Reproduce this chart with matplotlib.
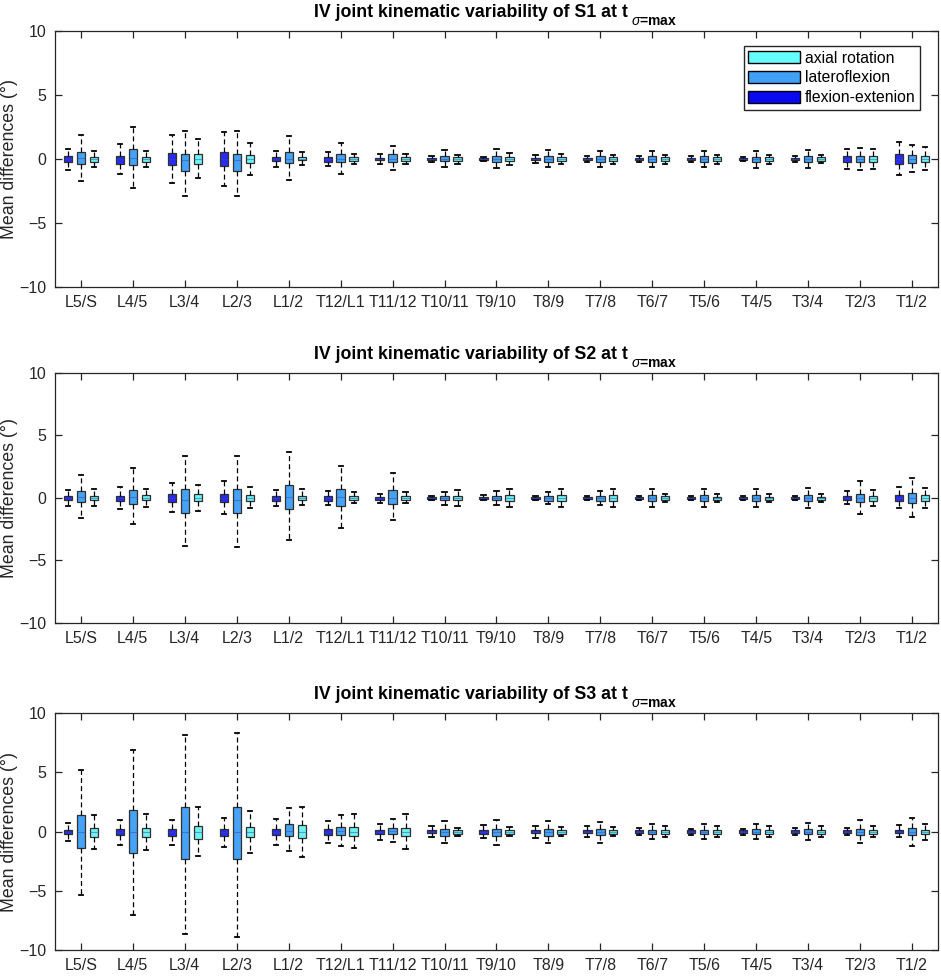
import matplotlib
matplotlib.use("Agg")
from matplotlib import pyplot as plt
from matplotlib.patches import Patch

plt.rcParams['font.family'] = ['Liberation Sans', 'DejaVu Sans']
plt.rcParams['mathtext.fontset'] = 'custom'
plt.rcParams['mathtext.rm'] = 'Liberation Sans'
plt.rcParams['mathtext.it'] = 'Liberation Sans:italic'
plt.rcParams['mathtext.bf'] = 'Liberation Sans:bold'

joints = ['L5/S', 'L4/5', 'L3/4', 'L2/3', 'L1/2', 'T12/L1', 'T11/12', 'T10/11', 'T9/10',
          'T8/9', 'T7/8', 'T6/7', 'T5/6', 'T4/5', 'T3/4', 'T2/3', 'T1/2']
subjects = ['S1', 'S2', 'S3']

# (whisker low, q1, median, q3, whisker high) per joint
s1_flex = [(-0.83, -0.26, 0, 0.23, 0.8), (-1.2, -0.36, 0, 0.26, 1.2), (-1.85, -0.5, 0, 0.5, 1.87),
           (-2.1, -0.52, 0, 0.57, 2.1), (-0.62, -0.18, 0, 0.16, 0.6), (-0.55, -0.2, 0, 0.16, 0.52),
           (-0.4, -0.1, 0, 0.1, 0.4), (-0.2, -0.08, 0, 0.08, 0.2), (-0.15, -0.1, 0, 0.1, 0.15),
           (-0.28, -0.08, 0, 0.08, 0.28), (-0.25, -0.08, 0, 0.08, 0.25), (-0.2, -0.07, 0, 0.07, 0.2),
           (-0.25, -0.08, 0, 0.08, 0.25), (-0.15, -0.07, 0, 0.07, 0.15), (-0.2, -0.08, 0, 0.08, 0.2),
           (-0.78, -0.2, 0, 0.2, 0.78), (-1.27, -0.36, 0, 0.36, 1.33)]
s1_lat = [(-1.7, -0.36, 0.05, 0.55, 1.85), (-2.27, -0.47, 0.1, 0.75, 2.5), (-2.86, -0.94, -0.1, 0.4, 2.16),
          (-2.9, -0.94, -0.1, 0.42, 2.2), (-1.67, -0.34, 0, 0.55, 1.82), (-1.17, -0.26, 0, 0.42, 1.28),
          (-0.9, -0.2, 0, 0.36, 1.0), (-0.62, -0.18, 0, 0.2, 0.68), (-0.7, -0.2, 0, 0.2, 0.78),
          (-0.6, -0.2, 0, 0.23, 0.7), (-0.6, -0.2, 0, 0.2, 0.62), (-0.65, -0.2, 0, 0.2, 0.65),
          (-0.65, -0.2, 0, 0.2, 0.62), (-0.68, -0.2, 0, 0.18, 0.62), (-0.7, -0.2, 0, 0.2, 0.7),
          (-0.88, -0.22, 0, 0.2, 0.88), (-1.04, -0.29, 0, 0.34, 1.07)]
s1_axial = [(-0.62, -0.2, 0, 0.18, 0.6), (-0.62, -0.2, 0, 0.18, 0.62), (-1.46, -0.36, 0, 0.4, 1.56),
            (-1.22, -0.34, 0, 0.34, 1.28), (-0.5, -0.1, 0, 0.18, 0.55), (-0.36, -0.15, 0, 0.13, 0.4),
            (-0.36, -0.13, 0, 0.15, 0.4), (-0.36, -0.13, 0, 0.13, 0.34), (-0.44, -0.15, 0, 0.15, 0.5),
            (-0.4, -0.15, 0, 0.15, 0.4), (-0.36, -0.13, 0, 0.13, 0.3), (-0.36, -0.13, 0, 0.13, 0.3),
            (-0.4, -0.15, 0, 0.15, 0.3), (-0.36, -0.13, 0, 0.13, 0.28), (-0.33, -0.13, 0, 0.13, 0.3),
            (-0.76, -0.21, 0, 0.23, 0.78), (-0.86, -0.23, 0, 0.26, 0.9)]

s2_flex = [(-0.65, -0.19, 0, 0.16, 0.62), (-0.89, -0.27, 0, 0.19, 0.86), (-1.16, -0.32, 0, 0.3, 1.18),
           (-1.32, -0.35, 0, 0.35, 1.34), (-0.67, -0.24, 0, 0.13, 0.6), (-0.59, -0.21, 0, 0.13, 0.54),
           (-0.38, -0.16, 0, 0.1, 0.35), (-0.18, -0.08, 0, 0.08, 0.18), (-0.2, -0.08, 0, 0.08, 0.2),
           (-0.18, -0.07, 0, 0.07, 0.18), (-0.18, -0.07, 0, 0.07, 0.18), (-0.15, -0.07, 0, 0.07, 0.15),
           (-0.15, -0.06, 0, 0.06, 0.15), (-0.15, -0.06, 0, 0.06, 0.15), (-0.15, -0.07, 0, 0.07, 0.15),
           (-0.48, -0.19, 0, 0.16, 0.54), (-0.8, -0.24, 0, 0.24, 0.86)]
s2_lat = [(-1.59, -0.35, 0.05, 0.54, 1.8), (-2.1, -0.46, 0.1, 0.67, 2.4), (-3.87, -1.18, -0.15, 0.7, 3.33),
          (-3.92, -1.2, -0.15, 0.7, 3.39), (-3.33, -0.89, 0.05, 1.0, 3.66), (-2.37, -0.65, 0.05, 0.73, 2.58),
          (-1.8, -0.5, 0, 0.6, 2.0), (-0.54, -0.19, 0, 0.16, 0.5), (-0.56, -0.19, 0, 0.19, 0.56),
          (-0.48, -0.21, 0, 0.19, 0.48), (-0.56, -0.21, 0, 0.19, 0.56), (-0.7, -0.21, 0, 0.24, 0.73),
          (-0.7, -0.21, 0, 0.24, 0.73), (-0.7, -0.21, 0, 0.21, 0.73), (-0.78, -0.24, 0, 0.21, 0.8),
          (-1.29, -0.35, 0, 0.32, 1.34), (-1.56, -0.4, 0, 0.4, 1.56)]
s2_axial = [(-0.67, -0.19, 0, 0.19, 0.7), (-0.7, -0.19, 0, 0.21, 0.7), (-1.02, -0.27, 0, 0.3, 1.02),
            (-0.83, -0.24, 0, 0.24, 0.86), (-0.56, -0.16, 0, 0.19, 0.7), (-0.4, -0.13, 0, 0.16, 0.5),
            (-0.4, -0.16, 0, 0.16, 0.5), (-0.62, -0.19, 0, 0.19, 0.62), (-0.75, -0.24, 0, 0.21, 0.75),
            (-0.73, -0.24, 0, 0.21, 0.7), (-0.75, -0.27, 0, 0.21, 0.7), (-0.3, -0.16, 0, 0.13, 0.3),
            (-0.3, -0.13, 0, 0.11, 0.3), (-0.3, -0.13, 0, 0.11, 0.3), (-0.3, -0.13, 0, 0.11, 0.3),
            (-0.65, -0.21, 0, 0.19, 0.65), (-0.78, -0.21, 0, 0.21, 0.8)]

s3_flex = [(-0.76, -0.2, 0, 0.17, 0.7), (-1.1, -0.28, 0, 0.23, 1.0), (-1.15, -0.34, 0, 0.2, 1.0),
           (-1.3, -0.37, 0, 0.23, 1.18), (-1.1, -0.3, 0, 0.23, 1.04), (-0.99, -0.25, 0, 0.2, 0.93),
           (-0.68, -0.2, 0, 0.14, 0.65), (-0.45, -0.13, 0, 0.13, 0.45), (-0.56, -0.23, 0, 0.14, 0.56),
           (-0.53, -0.15, 0, 0.15, 0.5), (-0.48, -0.15, 0, 0.15, 0.48), (-0.25, -0.1, 0, 0.1, 0.28),
           (-0.25, -0.1, 0, 0.1, 0.25), (-0.25, -0.1, 0, 0.1, 0.25), (-0.28, -0.1, 0, 0.1, 0.28),
           (-0.28, -0.14, 0, 0.11, 0.34), (-0.5, -0.14, 0, 0.14, 0.54)]
s3_lat = [(-5.35, -1.35, 0, 1.38, 5.18), (-7.07, -1.77, 0, 1.8, 6.87), (-8.68, -2.28, -0.05, 2.03, 8.14),
          (-8.87, -2.3, -0.05, 2.03, 8.3), (-1.63, -0.37, 0.05, 0.6, 1.97), (-1.2, -0.25, 0.05, 0.42, 1.38),
          (-0.9, -0.2, 0.05, 0.31, 1.07), (-1.0, -0.34, 0, 0.23, 0.87), (-1.15, -0.4, 0, 0.23, 1.0),
          (-1.0, -0.34, 0, 0.23, 0.87), (-0.93, -0.3, 0, 0.2, 0.82), (-0.65, -0.2, 0, 0.17, 0.62),
          (-0.65, -0.2, 0, 0.17, 0.62), (-0.62, -0.2, 0, 0.2, 0.62), (-0.68, -0.22, 0, 0.2, 0.68),
          (-1.0, -0.28, 0, 0.25, 0.99), (-1.2, -0.3, 0, 0.3, 1.18)]
s3_axial = [(-1.46, -0.42, 0, 0.34, 1.38), (-1.52, -0.42, 0, 0.34, 1.52), (-2.1, -0.6, 0, 0.5, 2.08),
            (-1.77, -0.48, 0, 0.42, 1.72), (-2.14, -0.54, 0, 0.56, 2.1), (-1.41, -0.37, 0, 0.37, 1.44),
            (-1.5, -0.37, 0, 0.34, 1.52), (-0.34, -0.17, 0, 0.11, 0.3), (-0.4, -0.17, 0, 0.14, 0.4),
            (-0.37, -0.17, 0, 0.14, 0.37), (-0.37, -0.17, 0, 0.14, 0.37), (-0.45, -0.17, 0, 0.17, 0.48),
            (-0.45, -0.17, 0, 0.17, 0.48), (-0.42, -0.17, 0, 0.17, 0.45), (-0.45, -0.17, 0, 0.17, 0.48),
            (-0.48, -0.2, 0, 0.17, 0.5), (-0.73, -0.22, 0, 0.11, 0.6)]

panels = [(s1_flex, s1_lat, s1_axial), (s2_flex, s2_lat, s2_axial), (s3_flex, s3_lat, s3_axial)]

colors = {'flex': '#2a2af0', 'lat': '#45a2f5', 'axial': '#6ff3ef'}
offsets = [-0.25, 0.0, 0.25]
keys = ['flex', 'lat', 'axial']

fig = plt.figure(figsize=(9.41, 9.76), dpi=100)
rects = [[0.0584, 0.706, 0.9384, 0.2623],
         [0.0584, 0.3617, 0.9384, 0.2562],
         [0.0584, 0.0266, 0.9384, 0.2428]]

for p, (subj, comps) in enumerate(zip(subjects, panels)):
    ax = fig.add_axes(rects[p])
    for comp, off, key in zip(comps, offsets, keys):
        stats = [dict(whislo=lo, q1=q1, med=med, q3=q3, whishi=hi, fliers=[])
                 for lo, q1, med, q3, hi in comp]
        pos = [i + 1 + off for i in range(len(joints))]
        ax.bxp(stats, positions=pos, widths=0.16, capwidths=0.08, patch_artist=True,
               showfliers=False, manage_ticks=False,
               boxprops=dict(facecolor=colors[key], edgecolor='#303030', linewidth=0.9),
               whiskerprops=dict(color='black', linestyle=(0, (4, 2.5)), linewidth=0.9),
               capprops=dict(color='black', linewidth=1.3),
               medianprops=dict(color='#2a4fb0', linewidth=0.8, alpha=0.5))
    ax.set_xlim(0.5, len(joints) + 0.5)
    ax.set_ylim(-10, 10)
    ax.set_yticks([-10, -5, 0, 5, 10])
    ax.set_xticks(range(1, len(joints) + 1))
    ax.set_xticklabels(joints)
    ax.tick_params(direction='in', length=5, width=0.9, top=True, right=True,
                   labelsize=11.5, colors='#262626', pad=6)
    for s in ax.spines.values():
        s.set_color('#262626')
        s.set_linewidth(0.9)
    ax.set_ylabel('Mean differences (°)', fontsize=12.8, color='#262626', labelpad=1)

    # title: main part ends at the "t", subscript set lower and smaller
    ax.annotate('IV joint kinematic variability of ' + subj + ' at t', xy=(0.649, 1),
                xycoords='axes fraction', xytext=(0, 9.9), textcoords='offset points',
                ha='right', va='baseline', fontsize=12.8, fontweight='bold')
    ax.annotate(r'$\sigma$=max', xy=(0.6525, 1), xycoords='axes fraction',
                xytext=(0, 4.6), textcoords='offset points',
                ha='left', va='baseline', fontsize=10, fontweight='bold')

    if p == 0:
        handles = [Patch(facecolor='#66ffff', edgecolor='black', label='axial rotation'),
                   Patch(facecolor='#3fa0f5', edgecolor='black', label='lateroflexion'),
                   Patch(facecolor='#0a0af0', edgecolor='black', label='flexion-extenion')]
        ax.legend(handles=handles, loc='upper right', bbox_to_anchor=(0.98, 0.941),
                  borderaxespad=0, fancybox=False, edgecolor='#262626', framealpha=1,
                  fontsize=11.3, handlelength=3.3, handleheight=0.8, labelspacing=0.3,
                  handletextpad=0.3, borderpad=0.3)

fig.savefig('out.png', dpi=100)
